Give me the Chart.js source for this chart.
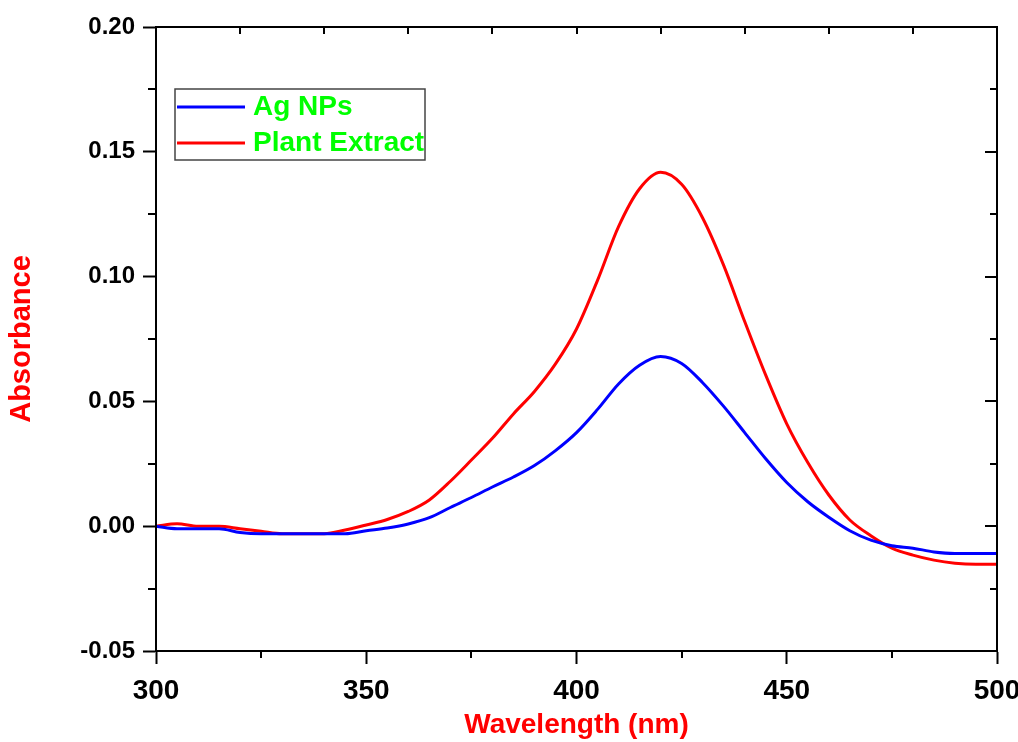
<!DOCTYPE html>
<html>
<head>
<meta charset="utf-8">
<script src="https://cdn.jsdelivr.net/npm/chart.js@4"></script>
<style>
    html, body { margin: 0; padding: 0; background: #fff; }
    #wrap { width: 1018px; height: 742px; }
</style>
</head>
<body>
<div id="wrap"><canvas id="myChart" width="1018" height="742"></canvas></div>
<script>
// wavelength grid (nm)
const wavelengths = [300, 305, 310, 315, 320, 325, 330, 335, 340, 345,
    350, 355, 360, 365, 370, 375, 380, 385, 390, 395,
    400, 405, 410, 415, 420, 425, 430, 435, 440, 445,
    450, 455, 460, 465, 470, 475, 480, 485, 490, 495, 500];

// absorbance
const agNPs = [0.000, -0.001, -0.001, -0.001, -0.0025, -0.003, -0.003, -0.003, -0.003, -0.003,
    -0.0018, -0.0007, 0.0009, 0.0034, 0.0075, 0.0115, 0.0157, 0.0197, 0.0243, 0.0303,
    0.0375, 0.0468, 0.0570, 0.0645, 0.0680, 0.0652, 0.0575, 0.0480, 0.0375, 0.0270,
    0.0175, 0.0098, 0.0036, -0.0018, -0.0056, -0.0078, -0.0088, -0.0103, -0.0109, -0.0109, -0.0109];

const plantExtract = [0.000, 0.001, 0.000, 0.000, -0.001, -0.002, -0.003, -0.003, -0.003, -0.0015,
    0.0005, 0.0027, 0.0059, 0.0105, 0.0180, 0.0265, 0.0352, 0.0450, 0.0540, 0.0650,
    0.0790, 0.0985, 0.1200, 0.1352, 0.1418, 0.1370, 0.1235, 0.1045, 0.0820, 0.0605,
    0.0410, 0.0255, 0.0125, 0.0025, -0.0038, -0.0088, -0.0116, -0.0136, -0.0148, -0.0152, -0.0152];

const xTicks = [300, 350, 400, 450, 500];
const yTicks = [-0.05, 0.00, 0.05, 0.10, 0.15, 0.20];

function toPoints(ys) {
    return wavelengths.map((w, i) => ({ x: w, y: ys[i] }));
}

// frame, minor ticks and inner ticks (Origin style)
const framePlugin = {
    id: "frame",
    afterDraw(chart) {
        const ctx = chart.ctx;
        const a = chart.chartArea;
        const xs = chart.scales.x;
        const ys = chart.scales.y;
        ctx.save();
        ctx.strokeStyle = "#000";
        ctx.lineWidth = 2;
        ctx.strokeRect(a.left, a.top, a.right - a.left, a.bottom - a.top);
        ctx.beginPath();
        // y minor outward on the left, inward ticks on the right
        for (let v = -0.05; v <= 0.2001; v += 0.025) {
            const p = Math.round(ys.getPixelForValue(v));
            const major = Math.abs(Math.round(v / 0.025)) % 2 === 0;
            if (!major) {
                ctx.moveTo(a.left - 8, p); ctx.lineTo(a.left, p);
            }
            ctx.moveTo(a.right, p); ctx.lineTo(a.right - (major ? 12 : 7), p);
        }
        // x minor outward at the bottom
        for (let v = 325; v < 500; v += 50) {
            const p = Math.round(xs.getPixelForValue(v));
            ctx.moveTo(p, a.bottom); ctx.lineTo(p, a.bottom + 7);
        }
        // small inward ticks on the top
        for (let v = 320; v < 500; v += 20) {
            const p = Math.round(xs.getPixelForValue(v));
            ctx.moveTo(p, a.top); ctx.lineTo(p, a.top + 7);
        }
        ctx.stroke();
        ctx.restore();
    }
};

// boxed legend inside the plot
const legendBox = {
    id: "legendBox",
    afterDraw(chart) {
        const ctx = chart.ctx;
        const x0 = 175, y0 = 89, w = 250, h = 71;
        ctx.save();
        ctx.strokeStyle = "#444";
        ctx.lineWidth = 1.5;
        ctx.strokeRect(x0, y0, w, h);
        ctx.font = "bold 28px 'Liberation Sans', Arial, sans-serif";
        ctx.textBaseline = "middle";
        chart.data.datasets.forEach((ds, i) => {
            const y = 107 + i * 36;
            ctx.strokeStyle = ds.borderColor;
            ctx.lineWidth = 3;
            ctx.beginPath();
            ctx.moveTo(177, y); ctx.lineTo(245, y);
            ctx.stroke();
            ctx.fillStyle = "#00ff00";
            ctx.fillText(ds.label, 253, y);
        });
        ctx.restore();
    }
};

new Chart(document.getElementById("myChart"), {
    type: "line",
    data: {
        datasets: [{
            label: "Ag NPs",
            data: toPoints(agNPs),
            borderColor: "#0000ff",
            borderWidth: 3,
            pointRadius: 0,
            cubicInterpolationMode: "monotone",
            fill: false
        }, {
            label: "Plant Extract",
            data: toPoints(plantExtract),
            borderColor: "#ff0000",
            borderWidth: 3,
            pointRadius: 0,
            cubicInterpolationMode: "monotone",
            fill: false
        }]
    },
    options: {
        responsive: false,
        animation: false,
        layout: { padding: { top: 27, right: 21, left: 0, bottom: 0 } },
        plugins: {
            legend: { display: false },
            tooltip: { enabled: false }
        },
        scales: {
            x: {
                type: "linear",
                min: 300,
                max: 500,
                afterFit: (s) => { s.height = 91; s.paddingLeft = 0; s.paddingRight = 0; },
                afterBuildTicks: (s) => { s.ticks = xTicks.map(v => ({ value: v })); },
                ticks: {
                    color: "#000",
                    padding: 10,
                    maxRotation: 0,
                    font: { family: "'Liberation Sans', Arial, sans-serif", size: 28, weight: "bold" },
                    callback: (v) => String(v)
                },
                grid: { drawOnChartArea: false, drawTicks: true, tickLength: 13, tickColor: "#000", tickWidth: 2 },
                border: { display: true, color: "#000", width: 2 },
                title: {
                    display: true,
                    text: "Wavelength (nm)",
                    color: "#ff0000",
                    padding: { top: 0, bottom: 0 },
                    font: { family: "'Liberation Sans', Arial, sans-serif", size: 28, weight: "bold" }
                }
            },
            y: {
                type: "linear",
                min: -0.05,
                max: 0.2,
                afterFit: (s) => { s.width = 156; s.paddingTop = 0; s.paddingBottom = 0; },
                afterBuildTicks: (s) => { s.ticks = yTicks.map(v => ({ value: v })); },
                ticks: {
                    color: "#000",
                    padding: 8,
                    font: { family: "'Liberation Sans', Arial, sans-serif", size: 24, weight: "bold" },
                    callback: (v) => Number(v).toFixed(2)
                },
                grid: { drawOnChartArea: false, drawTicks: true, tickLength: 13, tickColor: "#000", tickWidth: 2 },
                border: { display: true, color: "#000", width: 2 },
                title: {
                    display: true,
                    text: "Absorbance",
                    color: "#ff0000",
                    padding: { top: 5, bottom: 0 },
                    font: { family: "'Liberation Sans', Arial, sans-serif", size: 29, weight: "bold" }
                }
            }
        }
    },
    plugins: [framePlugin, legendBox]
});
</script>
</body>
</html>
